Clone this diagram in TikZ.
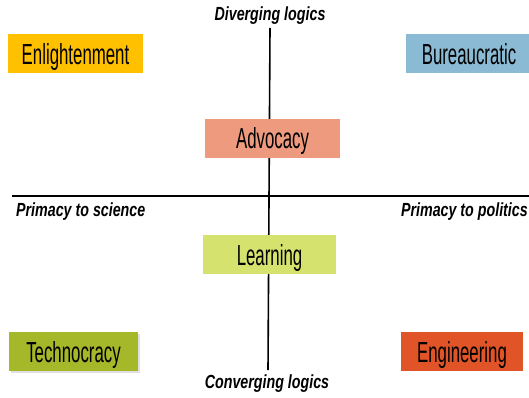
\documentclass[tikz,border=0pt]{standalone}
\usepackage{fontspec}
\usepackage{xcolor}
\usetikzlibrary{positioning, shadows}
\newfontfamily\boxfont[FakeStretch=0.58]{Liberation Sans}
\newfontfamily\labelfont[FakeStretch=0.75]{Liberation Sans}
\definecolor{enlgold}{HTML}{FFC000}
\definecolor{burblue}{HTML}{8BBBD4}
\definecolor{advsalmon}{HTML}{EE9A7E}
\definecolor{lrnlime}{HTML}{D5E26E}
\definecolor{tecolive}{HTML}{A5B82A}
\definecolor{engorange}{HTML}{E05428}

\begin{document}
\begin{tikzpicture}[
  x=1pt, y=-1pt,
  model/.style={inner sep=0pt, minimum height=39pt, text height=21pt, text depth=0pt,
    font=\boxfont\fontsize{29}{31}\selectfont},
  axislabel/.style={inner sep=0pt, font=\labelfont\bfseries\itshape\fontsize{19}{21}\selectfont},
  axis/.style={line width=1.6pt, black}
]
\useasboundingbox (0,0) rectangle (529,398);

% Axes
\coordinate (top) at (270,28);
\coordinate (bottom) at (268,370);
\coordinate (left) at (12,196);
\coordinate (right) at (529,196);
\draw[axis] (top) -- (bottom);
\draw[axis] (left) -- (right);

% Axis labels
\node[axislabel] (diverging) at (270,16) {Diverging logics};
\node[axislabel] (converging) at (267,384) {Converging logics};
\node[axislabel, anchor=west] (science) at (16,212) {Primacy to science};
\node[axislabel, anchor=east] (politics) at (528,212) {Primacy to politics};

% Models
\node[model, fill=enlgold, minimum width=135pt] (enlightenment) at (75.5,54) {Enlightenment};
\node[model, fill=burblue, minimum width=126pt] (bureaucratic) at (469,54) {Bureaucratic};
\node[model, fill=advsalmon, minimum width=135pt] (advocacy) at (272.5,138.5) {Advocacy};
\node[model, fill=lrnlime, minimum width=133pt] (learning) at (269.5,254.5) {Learning};
\node[model, fill=tecolive, minimum width=129pt,
  drop shadow={opacity=0.25, shadow xshift=1.5pt, shadow yshift=-1.5pt}] (technocracy) at (73.5,351.5) {Technocracy};
\node[model, fill=engorange, minimum width=122pt] (engineering) at (462,351.5) {Engineering};

\end{tikzpicture}
\end{document}
